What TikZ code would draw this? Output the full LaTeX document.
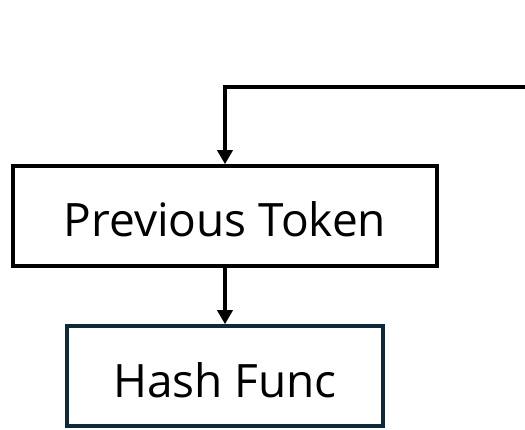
\documentclass[tikz,border=0pt]{standalone}
\usepackage{fontspec}
\setmainfont{Open Sans}
\usetikzlibrary{arrows.meta}
\definecolor{hashedge}{HTML}{0D2A3A}
\begin{document}
\begin{tikzpicture}[x=1pt,y=-1pt,
  box/.style={draw, line width=3.6pt, inner sep=0pt,
    font=\fontsize{46}{54}\selectfont, text height=42pt, text depth=0pt},
  flow/.style={line width=3.6pt, -{Triangle[length=14pt,width=15pt]}}]
\useasboundingbox (0,0) rectangle (525,430);

% token box and the hash function below it
\node[box, minimum width=424pt, minimum height=100pt] (prev) at (225,216) {Previous Token};
\node[box, draw=hashedge, minimum width=316pt, minimum height=100pt] (hash) at (225,376) {Hash Func};

% feedback line entering from the right
\coordinate (feed) at (530,87);
\coordinate (corner) at (225,87);

\draw[line width=3.6pt] (feed) -- (corner);
\draw[flow] ([yshift=1.8pt]corner) -- (prev.north);
\draw[flow] (prev.south) -- (hash.north);
\end{tikzpicture}
\end{document}
